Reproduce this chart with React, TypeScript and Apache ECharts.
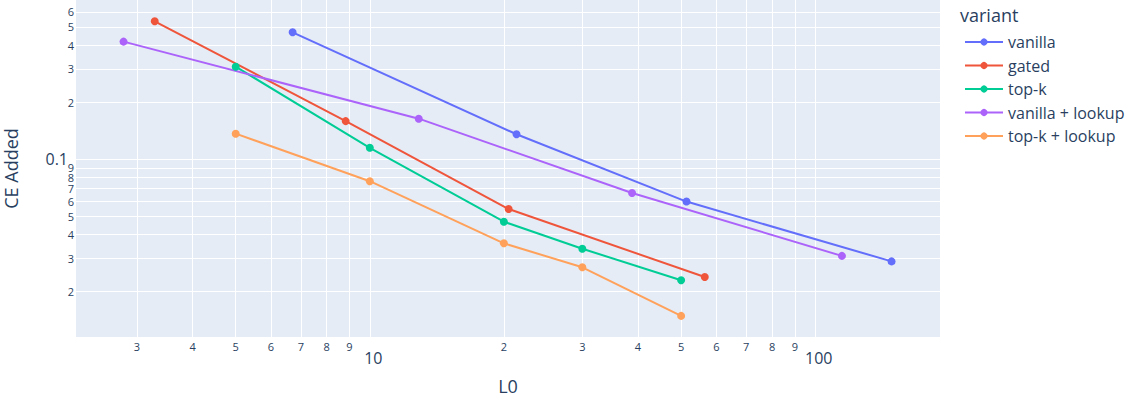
import React, { useEffect, useRef } from "react";
import * as echarts from "echarts";

// ---- data ----
const variants = ["vanilla", "gated", "top-k", "vanilla + lookup", "top-k + lookup"];
const colors = ["#636efa", "#EF553B", "#00cc96", "#ab63fa", "#FFA15A"];

const vanillaL0 = [6.71, 21.35, 51.4, 148.4];
const vanillaCE = [0.468, 0.1355, 0.0598, 0.0289];
const gatedL0 = [3.29, 8.83, 20.5, 56.5];
const gatedCE = [0.535, 0.159, 0.0546, 0.0239];
const topkL0 = [5, 10, 20, 30, 50];
const topkCE = [0.308, 0.115, 0.0468, 0.0337, 0.023];
const vanillaLookupL0 = [2.8, 12.88, 38.8, 114.8];
const vanillaLookupCE = [0.418, 0.1638, 0.0664, 0.0309];
const topkLookupL0 = [5, 10, 20, 30, 50];
const topkLookupCE = [0.1365, 0.0766, 0.036, 0.0269, 0.0149];

const seriesL0 = [vanillaL0, gatedL0, topkL0, vanillaLookupL0, topkLookupL0];
const seriesCE = [vanillaCE, gatedCE, topkCE, vanillaLookupCE, topkLookupCE];

// axis ranges (raw units, log axes)
const xRange = [2.19, 190.6];
const yRange = [0.01153, 0.693];

// tick values / labels
const xTickValues = [3, 4, 5, 6, 7, 8, 9, 10, 20, 30, 40, 50, 60, 70, 80, 90, 100];
const xTickLabels = ["3", "4", "5", "6", "7", "8", "9", "10", "2", "3", "4", "5", "6", "7", "8", "9", "100"];
const xMajorTicks = [10, 100];
const yTickValues = [0.02, 0.03, 0.04, 0.05, 0.06, 0.07, 0.08, 0.09, 0.1, 0.2, 0.3, 0.4, 0.5, 0.6];
const yTickLabels = ["2", "3", "4", "5", "6", "7", "8", "9", "0.1", "2", "3", "4", "5", "6"];
const yMajorTicks = [0.1];

const FONT = '"Open Sans", "Noto Sans", sans-serif';
const TEXT = "#2a3f5f";

const lg = (v: number) => Math.log10(v);

function makeFormatter(values: number[], labels: string[], majors: number[]) {
  return (v: number) => {
    const i = values.findIndex((t) => Math.abs(lg(t) - v) < 1e-6);
    if (i < 0) return "";
    return majors.includes(values[i]) ? `{maj|${labels[i]}}` : `{min|${labels[i]}}`;
  };
}

export default function App() {
  const ref = useRef<HTMLDivElement>(null);
  useEffect(() => {
    if (!ref.current) return;
    const chart = echarts.init(ref.current, undefined, { renderer: "svg" });
    const option: any = {
      animation: false,
      backgroundColor: "#ffffff",
      textStyle: { fontFamily: FONT },
      grid: {
        left: 76,
        top: 0,
        width: 864,
        height: 337,
        show: true,
        backgroundColor: "#E5ECF6",
        borderWidth: 0,
        containLabel: false,
        outerBoundsMode: "none",
      },
      xAxis: {
        type: "value",
        min: lg(xRange[0]),
        max: lg(xRange[1]),
        name: "L0",
        nameLocation: "middle",
        nameGap: 40,
        nameTextStyle: { fontSize: 18, color: TEXT, fontFamily: FONT, lineHeight: 18 },
        axisLine: { show: false },
        axisTick: { show: false, customValues: xTickValues.map(lg) },
        splitLine: { show: true, lineStyle: { color: "#ffffff", width: 1 } },
        axisLabel: {
          customValues: xTickValues.map(lg),
          margin: 4,
          color: TEXT,
          fontFamily: FONT,
          formatter: makeFormatter(xTickValues, xTickLabels, xMajorTicks),
          rich: {
            maj: { fontSize: 16, color: TEXT, fontFamily: FONT, padding: [9, 0, 0, 7] },
            min: { fontSize: 11, color: TEXT, fontFamily: FONT },
          },
        },
      },
      yAxis: {
        type: "value",
        min: lg(yRange[0]),
        max: lg(yRange[1]),
        name: "CE Added",
        nameLocation: "middle",
        nameGap: 56,
        nameRotate: 90,
        nameTextStyle: { fontSize: 18, color: TEXT, fontFamily: FONT, lineHeight: 18 },
        axisLine: { show: false },
        axisTick: { show: false, customValues: yTickValues.map(lg) },
        splitLine: { show: true, lineStyle: { color: "#ffffff", width: 1 } },
        axisLabel: {
          customValues: yTickValues.map(lg),
          margin: 2,
          color: TEXT,
          fontFamily: FONT,
          formatter: makeFormatter(yTickValues, yTickLabels, yMajorTicks),
          rich: {
            maj: { fontSize: 16, color: TEXT, fontFamily: FONT, padding: [0, 6, 0, 0], lineHeight: 14 },
            min: { fontSize: 11, color: TEXT, fontFamily: FONT, lineHeight: 9 },
          },
        },
      },
      legend: {
        orient: "vertical",
        left: 964,
        top: 33,
        padding: 0,
        itemWidth: 38,
        itemHeight: 9,
        itemGap: 5.5,
        textStyle: { fontSize: 16, color: TEXT, fontFamily: FONT, lineHeight: 18 },
        data: variants,
      },
      graphic: [
        {
          type: "text",
          left: 960,
          top: 6,
          style: { text: "variant", fontSize: 18, fill: TEXT, fontFamily: FONT },
        },
      ],
      series: variants.map((name, k) => ({
        name,
        type: "line",
        data: seriesL0[k].map((x, i) => [lg(x), lg(seriesCE[k][i])]),
        symbol: "circle",
        symbolSize: 8,
        showSymbol: true,
        lineStyle: { width: 2, color: colors[k] },
        itemStyle: { color: colors[k] },
        emphasis: { disabled: true },
      })),
    };
    chart.setOption(option);
    return () => chart.dispose();
  }, []);
  return (
    <div
      ref={ref}
      style={{ position: "fixed", left: 0, top: 0, width: 1133, height: 397 }}
    />
  );
}
